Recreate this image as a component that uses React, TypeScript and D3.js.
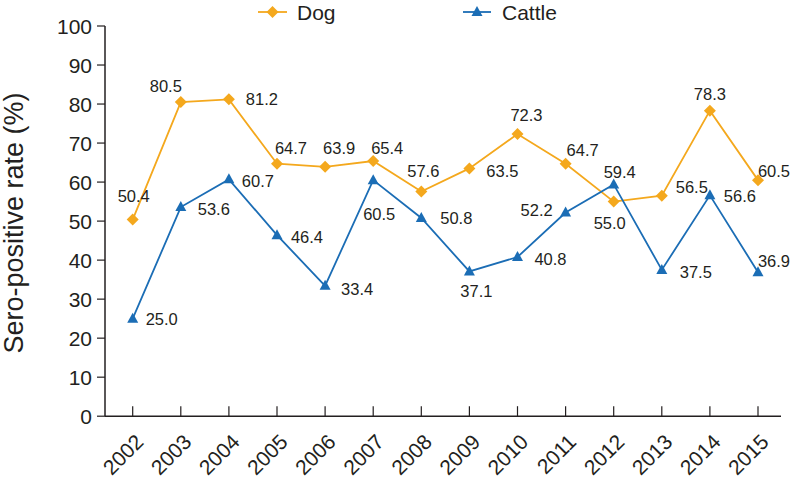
import React from "react";
import * as d3 from "d3";

const years = ["2002","2003","2004","2005","2006","2007","2008","2009","2010","2011","2012","2013","2014","2015"];
const dogValues = [50.4, 80.5, 81.2, 64.7, 63.9, 65.4, 57.6, 63.5, 72.3, 64.7, 55.0, 56.5, 78.3, 60.5];
const cattleValues = [25.0, 53.6, 60.7, 46.4, 33.4, 60.5, 50.8, 37.1, 40.8, 52.2, 59.4, 37.5, 56.6, 36.9];
const yTicks = [0, 10, 20, 30, 40, 50, 60, 70, 80, 90, 100];
const seriesNames = ["Dog", "Cattle"];

// label offsets relative to the marker (centre of label)
const dogLabelOffset = [[1,-23],[-15,-16],[33,0],[14,-16],[14,-19],[14,-13],[2,-20],[33,3],[9,-19],[17,-14],[-4,21],[30,-9],[0,-17],[16,-9]];
const cattleLabelOffset = [[29,0],[33,2],[29,2],[30,2],[32,3],[6,34],[35,0],[7,20],[33,2],[-29,-2],[6,-12],[34,2],[30,1],[16,-11]];

const DOG = "#F4A81D";
const CATTLE = "#1B6DB5";
const INK = "#231F20";
const FONT = "'Liberation Sans', Arial, Helvetica, sans-serif";

const diamond = (x: number, y: number, r = 6) =>
  `M${x},${y - r}L${x + r},${y}L${x},${y + r}L${x - r},${y}Z`;
const triangle = (x: number, y: number) =>
  `M${x},${y - 6}L${x + 5.5},${y + 4}L${x - 5.5},${y + 4}Z`;

export default function App() {
  const W = 792, H = 478;
  const x = d3.scalePoint<string>().domain(years).range([132.7, 758]);
  const y = d3.scaleLinear().domain([0, 100]).range([416.2, 26]);
  const axisLeft = 105, axisRight = 781;
  const line = d3.line<number>().x((_, i) => x(years[i])!).y(d => y(d));

  return (
    <svg width={W} height={H} style={{ position: "absolute", left: 0, top: 0, background: "#fff" }} fontFamily={FONT}>
      {/* axes */}
      <line x1={axisLeft} x2={axisLeft} y1={y(100)} y2={y(0)} stroke={INK} strokeWidth={1.5} />
      <line x1={axisLeft} x2={axisRight} y1={y(0)} y2={y(0)} stroke={INK} strokeWidth={1.5} />
      {yTicks.map(t => (
        <g key={t}>
          <line x1={axisLeft - 8} x2={axisLeft} y1={y(t)} y2={y(t)} stroke={INK} strokeWidth={1.2} />
          <text x={92} y={y(t)} dy="0.36em" textAnchor="end" fontSize={21} fill={INK}>{t}</text>
        </g>
      ))}
      {years.map(yr => (
        <g key={yr}>
          <line x1={x(yr)} x2={x(yr)} y1={y(0) - 10} y2={y(0)} stroke={INK} strokeWidth={1.2} />
          <text transform={`translate(${x(yr)! + 12},${y(0) + 27}) rotate(-45)`} textAnchor="end" fontSize={21} fill={INK}>{yr}</text>
        </g>
      ))}
      <text transform={`translate(23,223) rotate(-90)`} textAnchor="middle" fontSize={27} fill={INK}>Sero-positive rate (%)</text>

      {/* series */}
      <path d={line(dogValues)!} fill="none" stroke={DOG} strokeWidth={1.8} />
      <path d={line(cattleValues)!} fill="none" stroke={CATTLE} strokeWidth={1.8} />
      {dogValues.map((v, i) => (
        <path key={"d" + i} d={diamond(x(years[i])!, y(v))} fill={DOG} />
      ))}
      {cattleValues.map((v, i) => (
        <path key={"c" + i} d={triangle(x(years[i])!, y(v))} fill={CATTLE} />
      ))}
      {dogValues.map((v, i) => (
        <text key={"dl" + i} x={x(years[i])! + dogLabelOffset[i][0]} y={y(v) + dogLabelOffset[i][1]} dy="0.36em" textAnchor="middle" fontSize={16.5} fill={INK}>{v.toFixed(1)}</text>
      ))}
      {cattleValues.map((v, i) => (
        <text key={"cl" + i} x={x(years[i])! + cattleLabelOffset[i][0]} y={y(v) + cattleLabelOffset[i][1]} dy="0.36em" textAnchor="middle" fontSize={16.5} fill={INK}>{v.toFixed(1)}</text>
      ))}

      {/* legend */}
      <line x1={258} x2={287} y1={12} y2={12} stroke={DOG} strokeWidth={1.8} />
      <path d={diamond(272.5, 12)} fill={DOG} />
      <text x={297} y={12} dy="0.36em" fontSize={21} fill={INK}>{seriesNames[0]}</text>
      <line x1={463} x2={491} y1={12} y2={12} stroke={CATTLE} strokeWidth={1.8} />
      <path d={triangle(477, 12)} fill={CATTLE} />
      <text x={502} y={12} dy="0.36em" fontSize={21} fill={INK}>{seriesNames[1]}</text>
    </svg>
  );
}
